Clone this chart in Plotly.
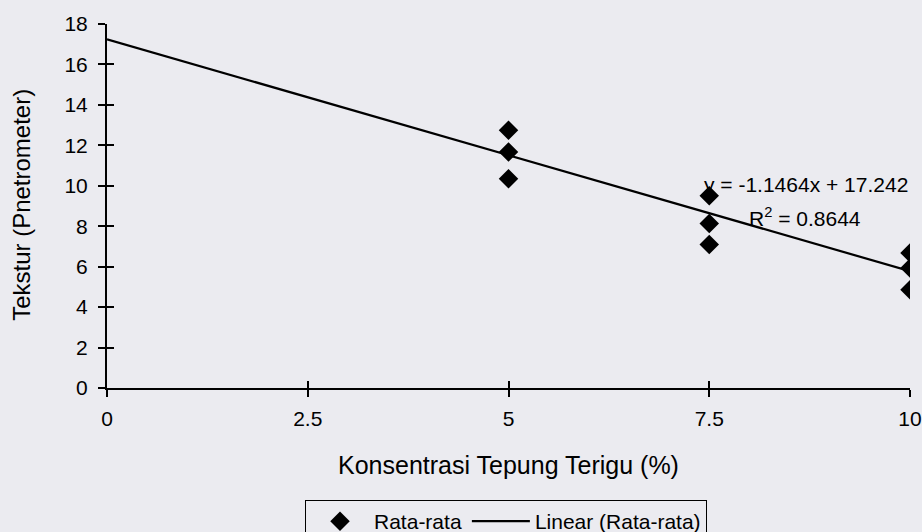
import plotly.graph_objects as go

# Data
konsentrasi = [5, 5, 5, 7.5, 7.5, 7.5, 10, 10, 10]
tekstur = [12.74, 11.67, 10.35, 9.51, 8.13, 7.09, 6.68, 5.93, 4.86]
slope = -1.1464
intercept = 17.242
r_squared = 0.8644
x_ticks = [0, 2.5, 5, 7.5, 10]
x_tick_labels = ["0", "2.5", "5", "7.5", "10"]
y_ticks = [0, 2, 4, 6, 8, 10, 12, 14, 16, 18]

line_x = [0, 10]
line_y = [slope * v + intercept for v in line_x]

BG = "#ebebf0"
FONT = "Liberation Sans, Arial, sans-serif"

fig = go.Figure()
fig.add_trace(go.Scatter(
    x=konsentrasi, y=tekstur, mode="markers", name="Rata-rata",
    marker=dict(symbol="diamond", size=15, color="black"),
))
fig.add_trace(go.Scatter(
    x=line_x, y=line_y, mode="lines", name="Linear (Rata-rata)",
    line=dict(color="black", width=2.2),
))
# invisible trace on overlay axes to draw inner half of crossing ticks
fig.add_trace(go.Scatter(x=[0], y=[0], xaxis="x2", yaxis="y2", mode="markers",
                         marker=dict(opacity=0), showlegend=False, hoverinfo="skip"))

axis_common = dict(showgrid=False, zeroline=False, showline=True, linecolor="black",
                   linewidth=2, ticks="outside", ticklen=7, tickwidth=2, tickcolor="black",
                   automargin=False,
                   tickfont=dict(size=21, color="black", family=FONT))

fig.update_layout(
    width=922, height=532,
    paper_bgcolor=BG, plot_bgcolor=BG,
    margin=dict(l=107, r=12, t=24, b=144, autoexpand=False),
    font=dict(family=FONT, color="black"),
    xaxis=dict(range=[0, 10], tickvals=x_ticks, ticktext=x_tick_labels,
               ticklabelstandoff=4, **axis_common),
    yaxis=dict(range=[0, 18], tickvals=y_ticks, ticklabelstandoff=6, **axis_common),
    xaxis2=dict(range=[0, 10], overlaying="x", anchor="y2", tickvals=x_ticks, showticklabels=False,
                ticks="inside", ticklen=7, tickwidth=2, tickcolor="black", showgrid=False,
                zeroline=False, showline=False, automargin=False),
    yaxis2=dict(range=[0, 18], overlaying="y", anchor="x2", tickvals=y_ticks, showticklabels=False,
                ticks="inside", ticklen=7, tickwidth=2, tickcolor="black", showgrid=False,
                zeroline=False, showline=False, automargin=False),
    legend=dict(orientation="h", x=0.2466, xanchor="left", y=-0.3077, yanchor="top",
                bordercolor="black", borderwidth=1, bgcolor="rgba(0,0,0,0)",
                font=dict(size=21, family=FONT), itemwidth=58, tracegroupgap=0),
    showlegend=True,
)

fig.add_annotation(x=0.4994, y=-0.2115, xref="paper", yref="paper", xanchor="center",
                   yanchor="middle", text="Konsentrasi Tepung Terigu (%)", showarrow=False,
                   font=dict(size=25, family=FONT, color="black"))
fig.add_annotation(x=-0.1059, y=0.503, xref="paper", yref="paper", xanchor="center",
                   yanchor="middle", textangle=-90, text="Tekstur (Pnetrometer)", showarrow=False,
                   font=dict(size=24, family=FONT, color="black"))

fig.add_annotation(x=7.41, y=10.05, xref="x", yref="y", xanchor="left", yanchor="middle",
                   text=f"y = {slope}x + {intercept}", showarrow=False,
                   font=dict(size=21, family=FONT, color="black"))
fig.add_annotation(x=7.97, y=8.47, xref="x", yref="y", xanchor="left", yanchor="middle",
                   text=f"R<sup>2</sup> = {r_squared}", showarrow=False,
                   font=dict(size=21, family=FONT, color="black"))

fig.write_html("out.html", config={"displayModeBar": False},
               post_script="document.body.style.margin='0';document.body.style.overflow='hidden';"
                           "window.dispatchEvent(new Event('resize'));")
